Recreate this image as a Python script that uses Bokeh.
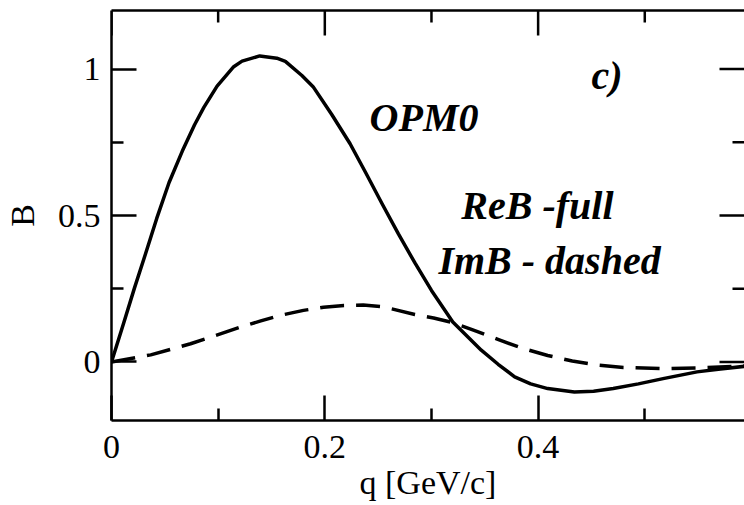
import math

from bokeh.plotting import figure
from bokeh.models import LinearAxis, FixedTicker, Range1d
from bokeh.core.properties import value
from bokeh.embed import file_html
from bokeh.resources import INLINE

# Real part of B (full line)
re_q = [0.0, 0.011, 0.0215, 0.032, 0.0424, 0.0539, 0.0664, 0.0779, 0.0866,
        0.099, 0.1146, 0.1224, 0.139, 0.155, 0.163, 0.1785, 0.189, 0.2065,
        0.2237, 0.2385, 0.2537, 0.269, 0.2845, 0.300, 0.320, 0.3467, 0.3625,
        0.378, 0.393, 0.409, 0.434, 0.452, 0.4704, 0.494, 0.5172, 0.549,
        0.571, 0.5935]
re_b = [0.0, 0.128, 0.252, 0.37, 0.49, 0.612, 0.72, 0.81, 0.869,
        0.942, 1.008, 1.027, 1.045, 1.037, 1.026, 0.978, 0.94, 0.845,
        0.745, 0.645, 0.54, 0.437, 0.338, 0.244, 0.136, 0.040, -0.008,
        -0.051, -0.075, -0.091, -0.103, -0.100, -0.091, -0.075, -0.057, -0.034,
        -0.024, -0.015]

# Imaginary part of B (dashed line)
im_q = [0.0, 0.0368, 0.0741, 0.100, 0.1208, 0.140, 0.158, 0.180, 0.1988,
        0.218, 0.236, 0.255, 0.2844, 0.302, 0.320, 0.340, 0.3623, 0.385,
        0.409, 0.432, 0.4557, 0.480, 0.518, 0.555, 0.5935]
im_b = [0.0, 0.024, 0.062, 0.093, 0.119, 0.140, 0.159, 0.176, 0.187,
        0.193, 0.194, 0.188, 0.162, 0.150, 0.134, 0.108, 0.077, 0.047,
        0.022, 0.003, -0.011, -0.019, -0.023, -0.020, -0.013]

x_major = [0.0, 0.2, 0.4]
x_minor = [0.1, 0.3, 0.5]
y_major = [0.0, 0.5, 1.0]
y_minor = [0.25, 0.75]

X_END = 0.5935
Y_START, Y_END = -0.2, 1.2

FONT = "Liberation Serif"
TICK_W = 2.5
MAJOR_LEN = 25
MINOR_LEN = 12

p = figure(width=744, height=505,
           x_range=Range1d(0.0, X_END), y_range=Range1d(Y_START, Y_END),
           output_backend="svg", toolbar_location=None,
           x_axis_location=None, y_axis_location=None,
           min_border_left=109, min_border_right=0,
           min_border_top=10, min_border_bottom=85)
p.outline_line_color = None
p.grid.visible = False
p.background_fill_color = "white"
p.border_fill_color = "white"


def style_axis(ax, major, minor):
    ax.ticker = FixedTicker(ticks=major, minor_ticks=minor)
    ax.axis_line_color = "black"
    ax.axis_line_width = TICK_W
    ax.major_tick_line_width = TICK_W
    ax.minor_tick_line_width = TICK_W
    ax.major_tick_line_color = "black"
    ax.minor_tick_line_color = "black"
    ax.major_tick_in = MAJOR_LEN
    ax.major_tick_out = 0
    ax.minor_tick_in = MINOR_LEN
    ax.minor_tick_out = 0
    ax.major_label_text_font = FONT
    ax.major_label_text_font_size = "34px"
    ax.major_label_text_color = "black"
    ax.axis_label_text_font = FONT
    ax.axis_label_text_font_size = "34px"
    ax.axis_label_text_font_style = "normal"
    ax.axis_label_text_color = "black"


bottom = LinearAxis(axis_label="q [GeV/c]")
style_axis(bottom, x_major, x_minor)
bottom.major_label_standoff = 15
bottom.axis_label_standoff = 3
p.add_layout(bottom, "below")

left = LinearAxis(axis_label="B")
style_axis(left, y_major, y_minor)
left.major_label_standoff = 11
left.axis_label_standoff = 14
p.add_layout(left, "left")

# top frame line (no ticks of its own, so no labels)
top = LinearAxis(ticker=FixedTicker(ticks=[], minor_ticks=[]))
top.axis_line_color = "black"
top.axis_line_width = TICK_W
top.major_tick_in = 0
top.major_tick_out = 0
top.minor_tick_in = 0
top.minor_tick_out = 0
p.add_layout(top, "above")

# mirrored inward ticks along the top and right edges
tick_kw = dict(line_color="black", line_width=TICK_W, length_units="screen")
p.ray(x=x_major, y=[Y_END] * len(x_major), length=MAJOR_LEN,
      angle=-math.pi / 2, **tick_kw)
p.ray(x=x_minor, y=[Y_END] * len(x_minor), length=MINOR_LEN,
      angle=-math.pi / 2, **tick_kw)
p.ray(x=[X_END] * len(y_major), y=y_major, length=MAJOR_LEN,
      angle=math.pi, **tick_kw)
p.ray(x=[X_END] * len(y_minor), y=y_minor, length=MINOR_LEN,
      angle=math.pi, **tick_kw)

p.line(re_q, re_b, line_color="black", line_width=3.5, line_join="round")
p.line(im_q, im_b, line_color="black", line_width=3.5, line_join="round",
       line_dash="24 12")

# Panel annotations
notes_x = [0.450, 0.242, 0.328, 0.3065]
notes_y = [0.977, 0.834, 0.534, 0.346]
notes_txt = ["c)", "OPM0", "ReB -full", "ImB - dashed"]
p.text(x=notes_x, y=notes_y, text=notes_txt,
       text_font=value(FONT), text_font_style="bold italic",
       text_font_size="40px", text_color="black",
       text_align="left", text_baseline="alphabetic")

open("out.html", "w").write(file_html(p, INLINE))
